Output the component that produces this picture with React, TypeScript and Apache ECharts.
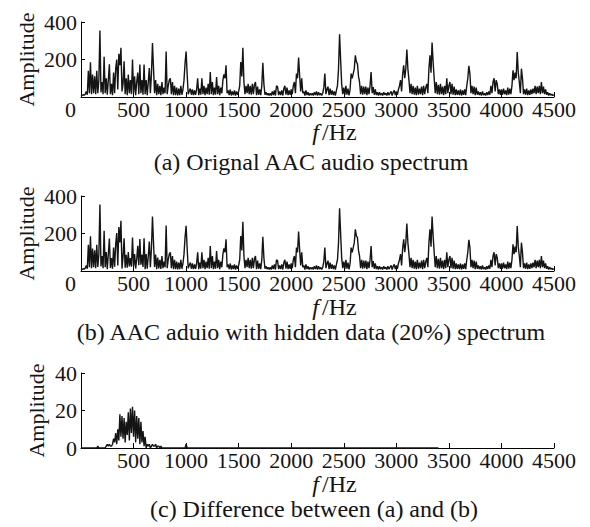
import React, { useEffect, useRef } from "react";
import * as echarts from "echarts";

// Frequency step of the spectrum samples (Hz)
const FREQ_STEP = 10;

// (a) Original AAC audio spectrum, amplitude every 10 Hz from 0 to 4500 Hz
const specA = [
  5, 8, 12, 10, 15, 30, 12, 140, 20, 185,
  15, 120, 20, 110, 15, 140, 20, 90, 355, 25,
  80, 15, 215, 20, 100, 12, 90, 175, 15, 70,
  10, 130, 20, 150, 200, 40, 230, 170, 262, 30,
  70, 190, 15, 100, 10, 120, 20, 90, 15, 200,
  20, 110, 10, 80, 130, 15, 173, 20, 90, 12,
  173, 15, 90, 10, 80, 155, 20, 120, 288, 150,
  20, 90, 10, 70, 15, 60, 10, 80, 15, 50,
  20, 243, 15, 60, 90, 100, 15, 80, 10, 60,
  10, 50, 8, 45, 10, 60, 12, 40, 90, 180,
  243, 120, 15, 30, 45, 12, 40, 10, 35, 12,
  40, 100, 10, 45, 12, 100, 15, 60, 10, 50,
  15, 70, 12, 133, 15, 80, 10, 50, 12, 107,
  15, 60, 10, 50, 20, 90, 120, 100, 169, 20,
  35, 10, 40, 8, 30, 10, 35, 8, 30, 12,
  30, 60, 187, 110, 263, 80, 15, 60, 20, 70,
  15, 60, 12, 70, 15, 65, 80, 10, 55, 12,
  40, 10, 60, 182, 70, 12, 25, 10, 20, 8,
  20, 8, 30, 10, 35, 8, 60, 55, 10, 30,
  10, 35, 8, 45, 60, 12, 50, 10, 35, 12,
  40, 15, 60, 80, 20, 125, 100, 210, 115, 30,
  100, 20, 30, 8, 35, 10, 25, 8, 20, 10,
  20, 8, 25, 10, 30, 8, 25, 10, 20, 8,
  20, 50, 125, 15, 40, 55, 10, 45, 12, 35,
  10, 30, 8, 35, 60, 150, 335, 200, 70, 15,
  50, 10, 60, 12, 45, 8, 40, 125, 100, 125,
  150, 222, 187, 178, 110, 80, 15, 60, 12, 55,
  15, 55, 10, 50, 15, 60, 133, 20, 53, 12,
  40, 10, 25, 8, 25, 10, 20, 8, 25, 12,
  20, 8, 25, 10, 20, 30, 8, 25, 35, 10,
  30, 12, 40, 60, 90, 30, 120, 169, 100, 150,
  253, 150, 90, 20, 70, 15, 60, 12, 50, 10,
  60, 12, 45, 15, 55, 10, 60, 15, 50, 70,
  20, 150, 222, 130, 290, 187, 100, 20, 80, 15,
  65, 12, 70, 15, 55, 10, 60, 15, 100, 20,
  60, 80, 15, 70, 12, 55, 10, 40, 12, 35,
  10, 40, 8, 35, 12, 40, 10, 60, 100, 166,
  125, 20, 60, 15, 55, 10, 50, 12, 30, 10,
  25, 8, 30, 10, 20, 8, 25, 10, 30, 12,
  60, 20, 80, 100, 30, 90, 70, 15, 40, 12,
  40, 12, 45, 15, 35, 10, 50, 12, 45, 15,
  60, 142, 90, 130, 100, 240, 130, 80, 20, 151,
  100, 15, 40, 12, 45, 10, 35, 12, 40, 15,
  45, 20, 60, 15, 55, 20, 60, 15, 80, 20,
  55, 15, 40, 12, 25, 8, 20, 10, 15, 8, 12,
];

// (b) AAC audio with hidden data (20%) spectrum
const specB = [
  5, 8, 12, 10, 15, 30, 12, 140, 20, 185,
  15, 120, 20, 110, 15, 140, 21, 90, 355, 25,
  80, 15, 215, 20, 101, 10, 91, 173, 16, 69,
  12, 125, 23, 142, 202, 30, 234, 152, 268, 13,
  75, 174, 18, 86, 17, 101, 24, 69, 23, 178,
  26, 90, 13, 63, 135, 31, 171, 34, 87, 21,
  174, 9, 90, 12, 79, 157, 20, 119, 290, 149,
  21, 88, 10, 71, 14, 60, 11, 80, 15, 50,
  20, 243, 15, 60, 90, 100, 15, 80, 10, 60,
  10, 50, 8, 45, 10, 60, 12, 40, 90, 180,
  241, 120, 15, 30, 45, 12, 40, 10, 35, 12,
  40, 100, 10, 45, 12, 100, 15, 60, 10, 50,
  15, 70, 12, 133, 15, 80, 10, 50, 12, 107,
  15, 60, 10, 50, 20, 90, 120, 100, 169, 20,
  35, 10, 40, 8, 30, 10, 35, 8, 30, 12,
  30, 60, 187, 110, 263, 80, 15, 60, 20, 70,
  15, 60, 12, 70, 15, 65, 80, 10, 55, 12,
  40, 10, 60, 182, 70, 12, 25, 10, 20, 8,
  20, 8, 30, 10, 35, 8, 60, 55, 10, 30,
  10, 35, 8, 45, 60, 12, 50, 10, 35, 12,
  40, 15, 60, 80, 20, 125, 100, 210, 115, 30,
  100, 20, 30, 8, 35, 10, 25, 8, 20, 10,
  20, 8, 25, 10, 30, 8, 25, 10, 20, 8,
  20, 50, 125, 15, 40, 55, 10, 45, 12, 35,
  10, 30, 8, 35, 60, 150, 335, 200, 70, 15,
  50, 10, 60, 12, 45, 8, 40, 125, 100, 125,
  150, 222, 187, 178, 110, 80, 15, 60, 12, 55,
  15, 55, 10, 50, 15, 60, 133, 20, 53, 12,
  40, 10, 25, 8, 25, 10, 20, 8, 25, 12,
  20, 8, 25, 10, 20, 30, 8, 25, 35, 10,
  30, 12, 40, 60, 90, 30, 120, 169, 100, 150,
  253, 150, 90, 20, 70, 15, 60, 12, 50, 10,
  60, 12, 45, 15, 55, 10, 60, 15, 50, 70,
  20, 150, 222, 130, 290, 187, 100, 20, 80, 15,
  65, 12, 70, 15, 55, 10, 60, 15, 100, 20,
  60, 80, 15, 70, 12, 55, 10, 40, 12, 35,
  10, 40, 8, 35, 12, 40, 10, 60, 100, 166,
  125, 20, 60, 15, 55, 10, 50, 12, 30, 10,
  25, 8, 30, 10, 20, 8, 25, 10, 30, 12,
  60, 20, 80, 100, 30, 90, 70, 15, 40, 12,
  40, 12, 45, 15, 35, 10, 50, 12, 45, 15,
  60, 142, 90, 130, 100, 240, 130, 80, 20, 151,
  100, 15, 40, 12, 45, 10, 35, 12, 40, 15,
  45, 20, 60, 15, 55, 20, 60, 15, 80, 20,
  55, 15, 40, 12, 25, 8, 20, 10, 15, 8, 12,
];

// (c) Difference between (a) and (b), every 10 Hz from 0 to 1100 Hz
const diffHead = [
  0, 0, 0, 0, 0, 0, 0, 0, 0, 0,
  0, 0, 0, 0, 0, 0, 1, 0, 0, 0,
  0, 0, 0, 0, 1, 2, 1, 2, 1, 1,
  2, 5, 3, 8, 2, 10, 4, 18, 6, 17,
  5, 16, 3, 14, 7, 19, 4, 21, 8, 22,
  6, 20, 3, 17, 5, 16, 2, 14, 3, 9,
  1, 6, 0, 2, 1, 2, 0, 1, 2, 1,
  1, 2, 0, 1, 1, 0, 1, 0, 0, 0,
  0, 0, 0, 0, 0, 0, 0, 0, 0, 0,
  0, 0, 0, 0, 0, 0, 0, 0, 0, 0,
  2, 0, 0, 0, 0, 0, 0, 0, 0, 0, 0,
];
// the difference trace stays at zero until this frequency
const diffEnd: [number, number] = [3400, 0];

const FONT = "Liberation Serif";
const INK = "#141414";

function toPairs(arr: number[]): [number, number][] {
  return arr.map((v, i) => [i * FREQ_STEP, v]);
}

export default function App() {
  const ref = useRef<HTMLDivElement>(null);

  useEffect(() => {
    document.body.style.margin = "0";
    if (!ref.current) return;
    const chart = echarts.init(ref.current, null, { renderer: "svg" });

    const gridsTop = [22, 196, 373];
    const gridH = 75;

    const xAxisBase = (gi: number, showZero: boolean) => ({
      gridIndex: gi,
      type: "value",
      min: 0,
      max: 4500,
      interval: 500,
      splitLine: { show: false },
      axisLine: { show: true, onZero: false, lineStyle: { color: "#000", width: 1 } },
      axisTick: { show: true, inside: true, length: 5, lineStyle: { color: "#000" } },
      axisLabel: {
        show: true,
        margin: 1,
        fontFamily: FONT,
        fontSize: 22,
        color: INK,
        showMinLabel: showZero,
        formatter: (v: number) => (v === 0 ? "{z|0}" : String(v)),
        rich: { z: { fontFamily: FONT, fontSize: 22, color: INK, padding: [0, 21, 0, 0] } },
      },
    });

    const yAxisBase = (gi: number, max: number, interval: number, showZero: boolean, gap: number) => ({
      gridIndex: gi,
      type: "value",
      min: 0,
      max,
      interval,
      name: "Amplitude",
      nameLocation: "middle",
      nameGap: gap,
      nameRotate: 90,
      nameMoveOverlap: false,
      nameTextStyle: { fontFamily: FONT, fontSize: 22, color: INK },
      splitLine: { show: false },
      axisLine: { show: true, lineStyle: { color: "#000", width: 1 } },
      axisTick: { show: true, inside: true, length: 4, lineStyle: { color: "#000" } },
      axisLabel: {
        margin: 4,
        fontFamily: FONT,
        fontSize: 22,
        color: INK,
        showMinLabel: showZero,
      },
    });

    const lineSeries = (gi: number, data: [number, number][]) => ({
      type: "line",
      xAxisIndex: gi,
      yAxisIndex: gi,
      data,
      showSymbol: false,
      symbol: "none",
      lineStyle: { color: INK, width: 1.4 },
      silent: true,
    });

    const texts: any[] = [];
    const fHz = [132, 307, 484];
    fHz.forEach((y) => {
      texts.push({
        type: "text",
        x: 319,
        y,
        style: {
          text: "f",
          fontFamily: FONT,
          fontSize: 24,
          fontStyle: "italic",
          fill: INK,
          textAlign: "right",
          textVerticalAlign: "middle",
        },
      });
      texts.push({
        type: "text",
        x: 322,
        y,
        style: {
          text: "/Hz",
          fontFamily: FONT,
          fontSize: 24,
          fill: INK,
          textAlign: "left",
          textVerticalAlign: "middle",
        },
      });
    });
    const captions: [string, number, number][] = [
      ["(a) Orignal AAC audio spectrum", 311, 162],
      ["(b) AAC aduio with hidden data (20%) spectrum", 311, 332],
      ["(c) Difference between (a) and (b)", 314, 509],
    ];
    captions.forEach(([t, x, y]) => {
      texts.push({
        type: "text",
        x,
        y,
        style: {
          text: t,
          fontFamily: FONT,
          fontSize: 24,
          fill: INK,
          textAlign: "center",
          textVerticalAlign: "middle",
        },
      });
    });

    chart.setOption({
      animation: false,
      backgroundColor: "#fff",
      grid: gridsTop.map((top) => ({ left: 81, right: 36, top, height: gridH, containLabel: false })),
      xAxis: [xAxisBase(0, true), xAxisBase(1, true), xAxisBase(2, false)],
      yAxis: [
        yAxisBase(0, 400, 200, false, 44),
        yAxisBase(1, 400, 200, false, 44),
        yAxisBase(2, 40, 20, true, 34),
      ],
      series: [
        lineSeries(0, toPairs(specA)),
        lineSeries(1, toPairs(specB)),
        lineSeries(2, [...toPairs(diffHead), diffEnd]),
      ],
      graphic: texts,
    });

    return () => chart.dispose();
  }, []);

  return <div ref={ref} style={{ width: 590, height: 527 }} />;
}
